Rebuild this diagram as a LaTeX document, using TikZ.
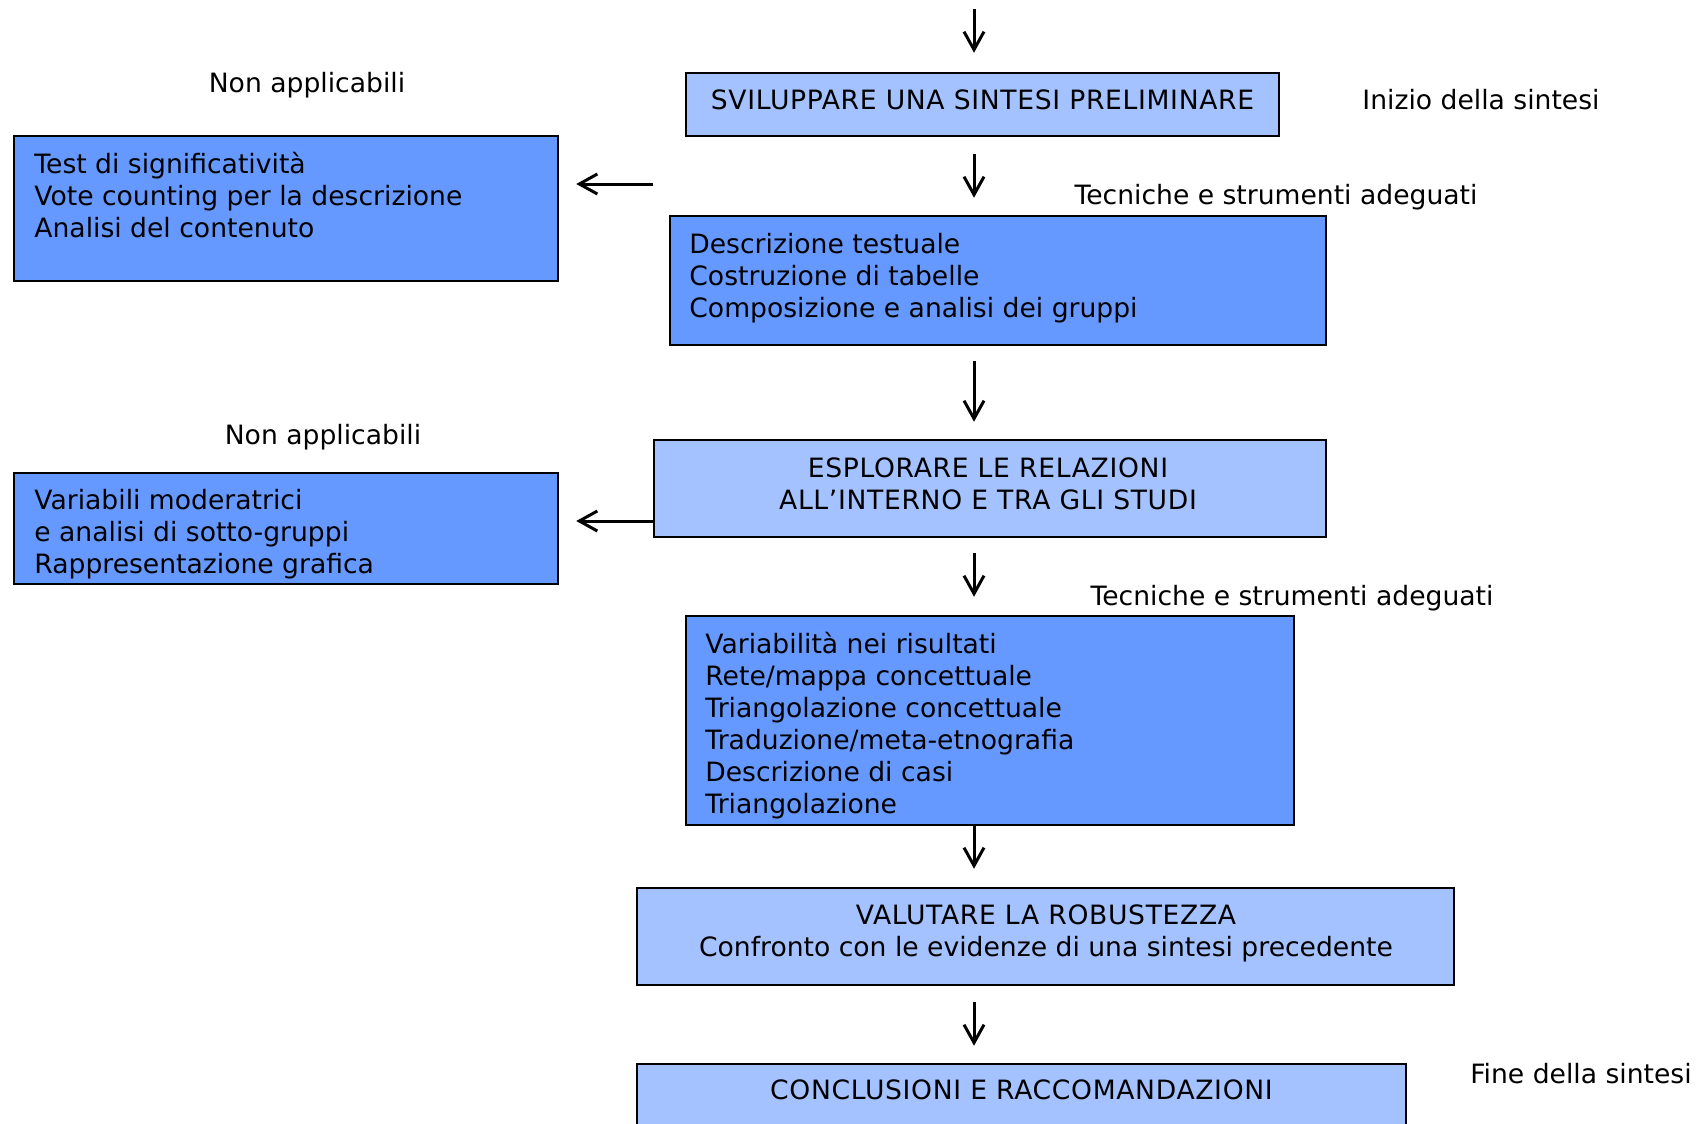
\documentclass[tikz,border=0pt]{standalone}
\usepackage{fontspec}
\setmainfont{DejaVu Sans}
\newfontfamily\capsfont[LetterSpace=2.5]{DejaVu Sans}
\usetikzlibrary{arrows.meta,fit}
\definecolor{lightfill}{HTML}{A4C2FF}
\definecolor{darkfill}{HTML}{6699FF}
\begin{document}
\begin{tikzpicture}[x=0.5pt, y=-0.5pt,
  lbox/.style={draw=black, line width=1.25pt, fill=lightfill, inner sep=0pt},
  dbox/.style={draw=black, line width=1.25pt, fill=darkfill, inner sep=0pt},
  txt/.style={font=\fontsize{13.3pt}{16pt}\selectfont, inner sep=0pt, text=black},
  ctxt/.style={font=\fontsize{13.3pt}{16pt}\capsfont, inner sep=0pt, text=black},
  arr/.style={-{Straight Barb[length=9pt,width=10pt]}, line width=1.5pt}]
\useasboundingbox (0,0) rectangle (1704,1124);
\clip (0,0) rectangle (1704,1124);

% boxes
\node[lbox, fit={(686,73) (1279,136)}] (a) {};
\node[dbox, fit={(14,136) (558,281)}] (l1) {};
\node[dbox, fit={(670,216) (1326,345)}] (b) {};
\node[lbox, fit={(654,440) (1326,537)}] (c) {};
\node[dbox, fit={(14,473) (558,584)}] (l2) {};
\node[dbox, fit={(686,616) (1294,825)}] (d) {};
\node[lbox, fit={(637,888) (1454,985)}] (e) {};
\node[lbox, fit={(637,1064) (1406,1160)}] (f) {};

% box texts (base anchor = baseline of last line)
\node[ctxt, anchor=base] (at) at (982.5,109) {SVILUPPARE UNA SINTESI PRELIMINARE};
\node[txt, anchor=base west, align=left] (l1t) at (34,237) {Test di significatività\\Vote counting per la descrizione\\Analisi del contenuto};
\node[txt, anchor=base west, align=left] (bt) at (689,317) {Descrizione testuale\\Costruzione di tabelle\\Composizione e analisi dei gruppi};
\node[ctxt, anchor=base, align=center] (ct) at (988,509) {ESPLORARE LE RELAZIONI\\ALL’INTERNO E TRA GLI STUDI};
\node[txt, anchor=base west, align=left] (l2t) at (34,573) {Variabili moderatrici\\e analisi di sotto-gruppi\\Rappresentazione grafica};
\node[txt, anchor=base west, align=left] (dt) at (705,813.5) {Variabilità nei risultati\\Rete/mappa concettuale\\Triangolazione concettuale\\Traduzione/meta-etnografia\\Descrizione di casi\\Triangolazione};
\node[ctxt, anchor=base] (et) at (1046,924.5) {VALUTARE LA ROBUSTEZZA};
\node[txt, anchor=base] (et2) at (1046,956.5) {Confronto con le evidenze di una sintesi precedente};
\node[ctxt, anchor=base] (ft) at (1021.5,1099.5) {CONCLUSIONI E RACCOMANDAZIONI};

% side labels
\node[txt, anchor=base] (na1) at (307,92.5) {Non applicabili};
\node[txt, anchor=base] (na2) at (323,444) {Non applicabili};
\node[txt, anchor=base] (ini) at (1481,109) {Inizio della sintesi};
\node[txt, anchor=base] (tec1) at (1276,204) {Tecniche e strumenti adeguati};
\node[txt, anchor=base] (tec2) at (1292,605) {Tecniche e strumenti adeguati};
\node[txt, anchor=base] (fin) at (1581,1083.5) {Fine della sintesi};

% connectors
\coordinate (top) at (974,9);
\coordinate (p1) at (653,184);
\coordinate (p2) at (654,521);
\draw[arr, shorten >=9.5pt] (top) -- (top |- a.north);
\draw[arr, shorten <=8.5pt, shorten >=8.5pt] (top |- a.south) -- (top |- b.north);
\draw[arr, shorten <=7.5pt, shorten >=8.5pt] (top |- b.south) -- (top |- c.north);
\draw[arr, shorten <=7.5pt, shorten >=9pt] (top |- c.south) -- (top |- d.north);
\draw[arr, shorten >=9pt] (top |- d.south) -- (top |- e.north);
\draw[arr, shorten <=8pt, shorten >=8.5pt] (top |- e.south) -- (top |- f.north);
\draw[arr, shorten >=8.5pt] (p1) -- (p1 -| l1.east);
\draw[arr, shorten >=8.5pt] (p2) -- (p2 -| l2.east);
\end{tikzpicture}
\end{document}
